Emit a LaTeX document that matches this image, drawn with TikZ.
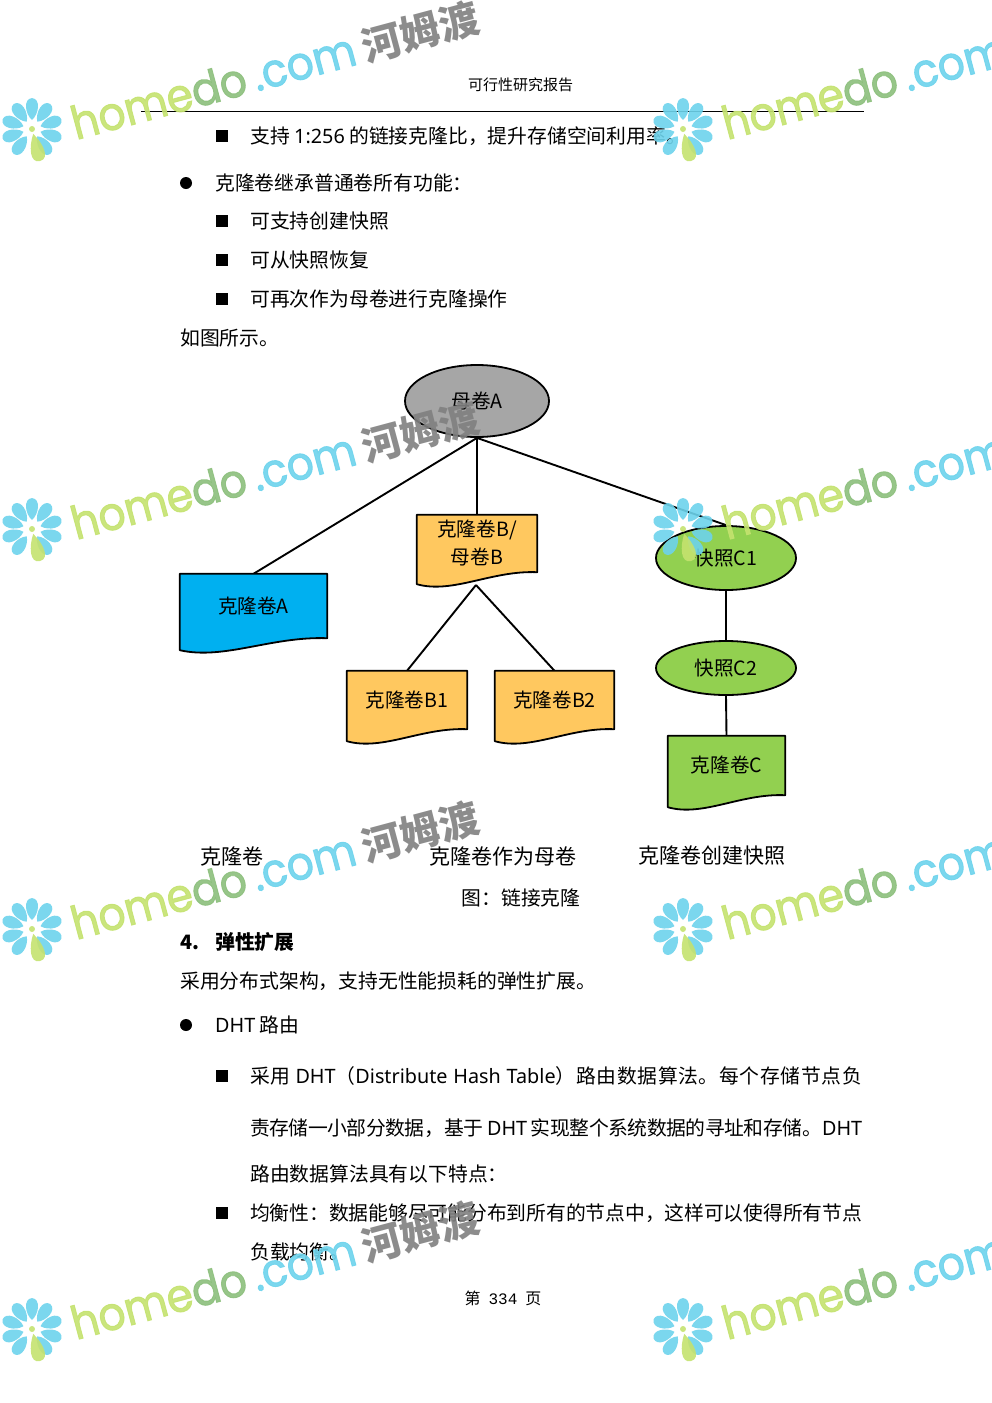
\documentclass[tikz,border=0pt]{standalone}
\usepackage{fontspec}
\setmainfont{Noto Sans}
\newfontfamily\cjk{Noto Sans CJK SC}
\newfontfamily\logofont[FakeBold=2,FakeStretch=.92]{Poppins}
\setmonofont{Liberation Mono}
\usetikzlibrary{shapes.geometric,backgrounds,calc}

\XeTeXlinebreaklocale "zh"
\XeTeXlinebreakskip=0pt plus 3pt minus 1pt

\definecolor{motherGray}{HTML}{A6A6A6}
\definecolor{cloneBlue}{HTML}{00B0F0}
\definecolor{cloneOrange}{HTML}{FFC85F}
\definecolor{snapGreen}{HTML}{92D050}
\definecolor{markGreen}{HTML}{C4E26F}
\definecolor{markDark}{HTML}{8CBF7C}
\definecolor{markBlue}{HTML}{6DD3EC}
\definecolor{markGray}{HTML}{808080}

\newcommand{\bodyfont}{\fontsize{19.8}{24}\selectfont}
\newcommand{\fullline}[1]{\parfillskip=0pt #1\par}

\tikzset{
  bodytext/.style={anchor=west,inner sep=0pt,font=\bodyfont\cjk},
  justline/.style={bodytext,text width=612pt,align=justify},
  squaredot/.style={rectangle,fill=black,inner sep=0pt,minimum size=12pt},
  rounddot/.style={circle,fill=black,inner sep=0pt,minimum size=12pt},
  volbox/.style={rectangle,inner sep=0pt,align=center,font=\fontsize{19.6}{28}\selectfont\cjk},
  snapell/.style={ellipse,draw=black,line width=1.8pt,inner sep=0pt,font=\fontsize{19.6}{24}\selectfont\cjk},
  captext/.style={inner sep=0pt,font=\fontsize{21}{24}\selectfont\cjk},
  treeline/.style={draw=black,line width=1.9pt},
  boxline/.style={draw=black,line width=1.8pt,line join=round}
}

\begin{document}
\begin{tikzpicture}[x=1pt,y=-1pt]
  \path[use as bounding box] (0,0) rectangle (992,1403);
  \clip (0,0) rectangle (992,1403);

  % page head
  \node[inner sep=0pt,font=\fontsize{15}{18}\selectfont\cjk] (headtext) at (520.5,85) {可行性研究报告};
  \coordinate (ruleL) at (141,111);
  \coordinate (ruleR) at (864,111);
  \draw[line width=1pt] (ruleL) -- (ruleR);

  % text above the figure
  \node[squaredot] (dotA) at (222,136) {};
  \node[bodytext] (lineA) at (250,136) {支持 {\rmfamily 1:256} 的链接克隆比，提升存储空间利用率。};
  \node[rounddot] (dotB) at (186,183) {};
  \node[bodytext] (lineB) at (215,183) {克隆卷继承普通卷所有功能：};
  \node[squaredot] (dotC) at (222,221) {};
  \node[bodytext] (lineC) at (250,221) {可支持创建快照};
  \node[squaredot] (dotD) at (222,260) {};
  \node[bodytext] (lineD) at (250,260) {可从快照恢复};
  \node[squaredot] (dotE) at (222,299) {};
  \node[bodytext] (lineE) at (250,299) {可再次作为母卷进行克隆操作};
  \node[bodytext] (lineF) at (180,338) {如图所示。};

  % the figure
  \node[snapell,fill=motherGray,minimum width=144pt,minimum height=72pt] (motherA) at (477,401) {母卷A};
  \node[volbox,minimum width=147pt,minimum height=64pt] (cloneA) at (253.5,606) {克隆卷A};
  \node[volbox,minimum width=120pt,minimum height=57pt] (cloneB) at (477,543.5) {克隆卷B/\\母卷B};
  \node[volbox,minimum width=120pt,minimum height=58pt] (cloneBa) at (407,700) {克隆卷B1};
  \node[volbox,minimum width=119pt,minimum height=58pt] (cloneBb) at (554.5,700) {克隆卷B2};
  \node[snapell,fill=snapGreen,minimum width=140pt,minimum height=64pt] (snapA) at (726,558) {快照C1};
  \node[snapell,fill=snapGreen,minimum width=140pt,minimum height=54pt] (snapB) at (726,668) {快照C2};
  \node[volbox,minimum width=117pt,minimum height=59pt] (cloneC) at (726.5,765.5) {克隆卷C};
  \coordinate (cloneBfoot) at (476,585);

  \begin{scope}[on background layer]
    \draw[treeline] (motherA.south) -- (cloneA.north);
    \draw[treeline] (motherA.south) -- (cloneB.north);
    \draw[treeline] (motherA.south) -- (snapA.north);
    \draw[treeline] (cloneBfoot) -- (cloneBa.north);
    \draw[treeline] (cloneBfoot) -- (cloneBb.north);
    \draw[treeline] (snapA.south) -- (snapB.north);
    \draw[treeline] (snapB.south) -- (cloneC.north);
    \foreach \vol/\col in {cloneA/cloneBlue,cloneB/cloneOrange,cloneBa/cloneOrange,cloneBb/cloneOrange,cloneC/snapGreen}
      \draw[boxline,fill=\col] (\vol.north west) -- (\vol.north east) -- (\vol.south east)
        .. controls ($(\vol.south west)!.62!(\vol.south east)+(0,-2)$) and ($(\vol.south west)!.3!(\vol.south east)+(0,22)$)
        .. ($(\vol.south west)+(0,12)$) -- cycle;
  \end{scope}

  \node[captext] (capA) at (232,856) {克隆卷};
  \node[captext] (capB) at (502.5,856) {克隆卷作为母卷};
  \node[captext] (capC) at (712,856) {克隆卷创建快照};

  % text below the figure
  \node[inner sep=0pt,font=\bodyfont\cjk] (figcap) at (521,898) {图：链接克隆};
  \node[bodytext,font=\bodyfont\cjk\bfseries] (headnum) at (180,942) {4.};
  \node[bodytext,font=\bodyfont\cjk\bfseries] (headname) at (215,942) {弹性扩展};
  \node[bodytext] (lineG) at (180,981) {采用分布式架构，支持无性能损耗的弹性扩展。};
  \node[rounddot] (dotF) at (186,1025) {};
  \node[bodytext] (lineH) at (215,1025) {{\rmfamily DHT} 路由};
  \node[squaredot] (dotG) at (222,1076) {};
  \node[justline] (lineI) at (250,1076) {\fullline{采用 {\rmfamily DHT}（{\rmfamily Distribute Hash Table}）路由数据算法。每个存储节点负}};
  \node[justline] (lineJ) at (250,1128) {\fullline{责存储一小部分数据，基于 {\rmfamily DHT} 实现整个系统数据的寻址和存储。{\rmfamily DHT}}};
  \node[bodytext] (lineK) at (250,1174) {路由数据算法具有以下特点：};
  \node[squaredot] (dotH) at (222,1213) {};
  \node[justline] (lineL) at (250,1213) {\fullline{均衡性：数据能够尽可能分布到所有的节点中，这样可以使得所有节点}};
  \node[bodytext] (lineM) at (250,1252) {负载均衡。};
  \node[inner sep=0pt,font=\fontsize{16}{20}\selectfont\cjk] (pagenum) at (503,1298) {第\enspace{\ttfamily 334}\enspace 页};

  % watermark
  \begin{scope}[opacity=.9]
    \foreach \wy in {0,400,800,1200}
      \foreach \wx in {0,651} {
        \begin{scope}[shift={(\wx,\wy)}]
          \foreach \ang in {90,54,18,-18,-54,-126,-162,162,126}
            \fill[markBlue,shift={(32,129)},rotate=\ang]
              (9,0) .. controls (15,-7) and (30,-9) .. (31,0) .. controls (30,9) and (15,7) .. (9,0) -- cycle;
          \fill[markGreen,shift={(32,129)},rotate=-76]
            (5,0) .. controls (16,-7) and (33,-11) .. (33,0) .. controls (33,11) and (16,7) .. (5,0) -- cycle;
          \fill[markGreen] (32,129) circle (3);
          \node[anchor=base west,inner sep=0pt,rotate=15,font=\fontsize{46}{50}\selectfont\logofont] (mark\wx-\wy) at (76,140)
            {\textcolor{markGreen}{home}\textcolor{markDark}{do}\textcolor{markBlue}{\,.com}\textcolor{markGray}{\,{\fontsize{40}{44}\selectfont\cjk\bfseries 河姆渡}}};
        \end{scope}
      }
  \end{scope}

\end{tikzpicture}
\end{document}
